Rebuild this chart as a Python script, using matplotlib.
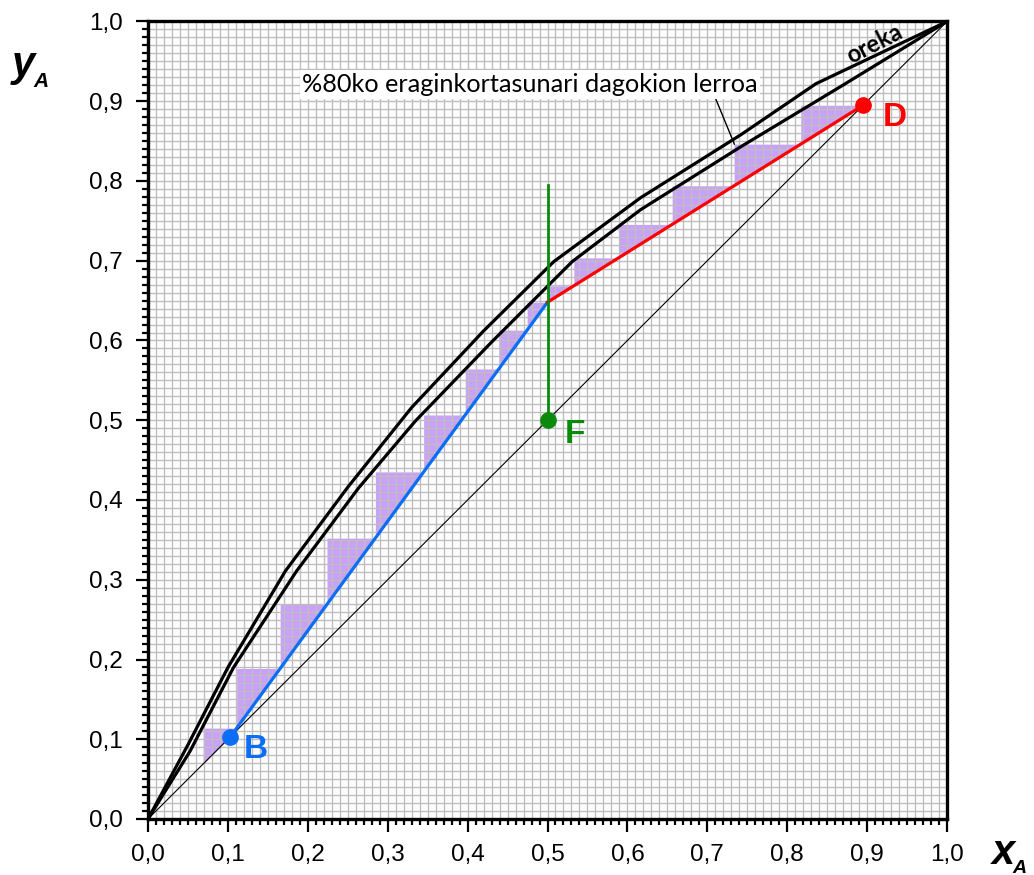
import numpy as np
import matplotlib.pyplot as plt
from matplotlib.ticker import MultipleLocator, FuncFormatter

# --- Data ---
# equilibrium curve (oreka)
eq_x = [0.0, 0.05, 0.10, 0.172, 0.25, 0.33, 0.42, 0.508, 0.6165, 0.742, 0.836, 1.0]
eq_y = [0.0, 0.093, 0.19, 0.311, 0.416, 0.516, 0.612, 0.699, 0.779, 0.858, 0.922, 1.0]

# 80% efficiency curve
ef_x = [0.0, 0.0526, 0.107, 0.186, 0.2635, 0.3346, 0.43, 0.531, 0.6165, 0.742, 0.867, 1.0]
ef_y = [0.0, 0.085, 0.19, 0.311, 0.415, 0.499, 0.598, 0.699, 0.764, 0.843, 0.9185, 1.0]

# key points
xB, xF, yF, xD = 0.103, 0.5, 0.5, 0.895
y_int = 0.648      # intersection of operating lines at x = xF
q_top = 0.795      # top of the feed (q) line

# left corner of every stage, top to bottom
stage_x = [0.817, 0.7335, 0.656, 0.589, 0.533, 0.500, 0.4745, 0.439,
           0.397, 0.345, 0.2845, 0.224, 0.1654, 0.111, 0.069]

# operating line (diagonal below B, stripping, rectifying)
op_x = [0.0, xB, xF, xD]
op_y = [0.0, xB, y_int, xD]

purple = '#C9A0FA'
blue = '#0A6EF5'
red = '#FF0000'
green = '#0A8A0A'

fig = plt.figure(figsize=(10.34, 8.75), dpi=100)
ax = fig.add_axes([148 / 1034, 56 / 875, 799 / 1034, 797.5 / 875])
ax.set_xlim(0, 1)
ax.set_ylim(0, 1)

# grid every 0.01
ax.xaxis.set_major_locator(MultipleLocator(0.1))
ax.yaxis.set_major_locator(MultipleLocator(0.1))
ax.xaxis.set_minor_locator(MultipleLocator(0.01))
ax.yaxis.set_minor_locator(MultipleLocator(0.01))
ax.grid(True, which='both', color='#BEBEBE', linewidth=1.0)

fmt = FuncFormatter(lambda v, p: f"{v:.1f}".replace('.', ','))
ax.xaxis.set_major_formatter(fmt)
ax.yaxis.set_major_formatter(fmt)
ax.tick_params(which='major', direction='out', length=9, width=1.6,
               labelsize=17.5, pad=9)
ax.tick_params(which='minor', direction='out', length=4.5, width=1.6)
for lab in ax.get_xticklabels() + ax.get_yticklabels():
    lab.set_fontfamily('Liberation Sans')
for sp in ax.spines.values():
    sp.set_linewidth(2.4)

# stages (shaded triangles between the steps and the operating line)
x_prev = xD
top = xD
for x_n in stage_x:
    xs = np.linspace(x_n, x_prev, 60)
    ax.fill_between(xs, np.interp(xs, op_x, op_y), top, color=purple,
                    linewidth=0, zorder=1)
    x_prev = x_n
    top = np.interp(x_n, op_x, op_y)

# diagonal
ax.plot([0, 1], [0, 1], color='black', linewidth=0.8, zorder=2)
# curves
ax.plot(eq_x, eq_y, color='black', linewidth=2.3, zorder=3)
ax.plot(ef_x, ef_y, color='black', linewidth=2.3, zorder=3)

# operating lines
ax.plot([xB, xF], [xB, y_int], color=blue, linewidth=2.3, zorder=4)
ax.plot([xF, xD], [y_int, xD], color=red, linewidth=2.3, zorder=4)
# q line
ax.plot([xF, xF], [yF, q_top], color=green, linewidth=2.0, zorder=4)

# points
ax.plot(xB, xB, 'o', color=blue, markersize=11, zorder=5)
ax.plot(xD, xD, 'o', color=red, markersize=11, zorder=5)
ax.plot(xF, yF, 'o', color=green, markersize=11, zorder=5)
lab_kw = dict(fontsize=24, fontweight='bold', family='Liberation Sans',
              ha='left', va='baseline', zorder=6)
ax.text(xB + 0.017, xB - 0.027, 'B', color=blue, **lab_kw)
ax.text(xD + 0.025, xD - 0.026, 'D', color=red, **lab_kw)
ax.text(xF + 0.021, yF - 0.0285, 'F', color=green, **lab_kw)

# annotations
ax.annotate('%80ko eraginkortasunari dagokion lerroa', xy=(0.734, 0.846),
            xytext=(0.193, 0.921), fontsize=18.2, family='Lato', ha='left',
            va='center', zorder=6,
            bbox=dict(boxstyle='square,pad=0.1', fc='white', ec='none'),
            arrowprops=dict(arrowstyle='-', color='black', lw=1.0,
                            shrinkA=0, shrinkB=0, relpos=(0.905, 0.0)))
ax.text(0.909, 0.972, 'oreka', rotation=27, fontsize=17, fontweight='bold',
        family='Lato', ha='center', va='center', zorder=6)

# axis titles
fig.text(12 / 1034, 1 - 76 / 875, 'y', fontsize=30, fontweight='bold',
         style='italic', family='Liberation Sans', ha='left', va='baseline')
fig.text(33 / 1034, 1 - 87 / 875, 'A', fontsize=15, fontweight='bold',
         style='italic', family='Liberation Sans', ha='left', va='baseline')
fig.text(992 / 1034, 1 - 864 / 875, 'x', fontsize=30, fontweight='bold',
         style='italic', family='Liberation Sans', ha='left', va='baseline')
fig.text(1012 / 1034, 1 - 873 / 875, 'A', fontsize=14, fontweight='bold',
         style='italic', family='Liberation Sans', ha='left', va='baseline')

fig.savefig('out.png', dpi=100)
